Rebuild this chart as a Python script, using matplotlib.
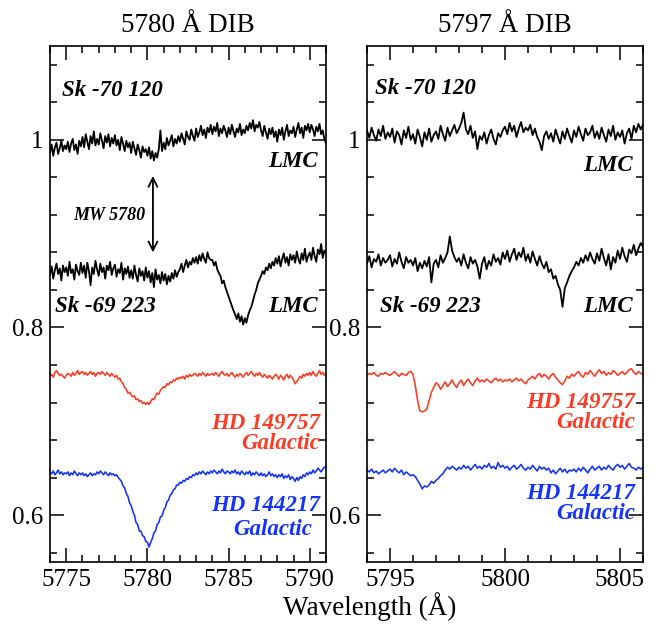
import numpy as np
import matplotlib
matplotlib.use("Agg")
import matplotlib.pyplot as plt
from matplotlib.ticker import MultipleLocator

plt.rcParams['font.family'] = ['Liberation Serif', 'DejaVu Serif']

# wavelength grids, 0.1 A sampling
wave_5780 = np.round(np.linspace(5774.0, 5791.0, 171), 1)
wave_5797 = np.round(np.linspace(5794.0, 5806.0, 121), 1)

# normalised flux (x1000), offsets already applied
sk70_5780 = [
    986, 995, 983, 992, 997, 985, 991, 999, 988, 994,
    990, 998, 987, 996, 1001, 989, 995, 985, 999, 993,
    1003, 992, 1006, 998, 990, 1004, 996, 1009, 994, 1001,
    995, 1007, 999, 991, 1004, 997, 1006, 993, 1002, 996,
    1005, 994, 1000, 989, 1003, 996, 988, 999, 992, 997,
    986, 998, 991, 984, 995, 989, 981, 993, 987, 990,
    983, 992, 980, 988, 978, 986, 981, 990, 1010, 988,
    997, 990, 1002, 994, 999, 1005, 993, 1001, 996, 1004,
    998, 1007, 1001, 995, 1009, 1003, 1000, 1011, 1004, 999,
    1012, 1003, 1008, 1015, 1005, 1011, 1002, 1013, 1008, 1016,
    1006, 1014, 1009, 1018, 1004, 1012, 1007, 1015, 1010, 1003,
    1013, 1006, 1016, 1009, 1003, 1012, 1008, 1017, 1005, 1011,
    1007, 1015, 1010, 1018, 1012, 1021, 1009, 1016, 1013, 1019,
    1010, 1004, 1015, 1008, 1001, 1012, 1006, 1013, 1003, 1009,
    998, 1011, 1005, 1013, 1000, 1009, 1016, 1004, 1010, 1007,
    1014, 1003, 1011, 1018, 1007, 1013, 1002, 1015, 1010, 1017,
    1008, 1016, 1011, 1004, 1014, 1009, 1017, 1006, 1010, 1001,
    996,
]
sk69_5780 = [
    856, 865, 852, 861, 868, 857, 863, 850, 866, 859,
    864, 855, 870, 858, 862, 851, 867, 860, 856, 869,
    858, 866, 853, 869, 860, 845, 864, 857, 871, 862,
    855, 868, 859, 864, 852, 866, 861, 870, 856, 863,
    867, 854, 862, 858, 869, 851, 863, 857, 865, 853,
    861, 852, 866, 856, 849, 863, 855, 860, 850, 864,
    853, 860, 848, 858, 843, 862, 851, 856, 847, 859,
    850, 857, 846, 855, 849, 858, 852, 861, 854, 859,
    862, 868, 859, 866, 872, 864, 870, 867, 874, 869,
    875, 868, 877, 871, 879, 873, 869, 880, 874, 872,
    872, 866, 870, 862, 858, 855, 847, 850, 843, 838,
    833, 828, 823, 818, 814, 809, 815, 806, 812, 803,
    810, 805, 813, 818, 822, 828, 835, 840, 847, 851,
    855, 860, 857, 864, 861, 868, 863, 870, 866, 874,
    868, 876, 865, 873, 879, 869, 875, 866, 878, 872,
    877, 869, 881, 873, 868, 879, 872, 884, 870, 876,
    880, 872, 885, 876, 870, 883, 878, 889, 874, 882,
    879,
]
hd149757_5780 = [
    748, 750, 747, 752, 754, 751, 749, 750, 748, 746,
    749, 751, 750, 748, 752, 749, 751, 754, 750, 752,
    753, 750, 752, 749, 751, 753, 750, 752, 748, 751,
    752, 750, 753, 751, 749, 752, 750, 748, 751, 749,
    747, 749, 745, 746, 742, 740, 736, 734, 730, 731,
    728, 726, 727, 723, 724, 721, 722, 719, 720, 718,
    720, 718, 721, 724, 723, 727, 730, 729, 733, 735,
    737, 736, 740, 739, 742, 741, 744, 743, 746, 745,
    747, 746, 748, 745, 749, 747, 750, 748, 749, 751,
    750, 748, 751, 749, 752, 750, 748, 751, 749, 750,
    751, 749, 752, 750, 748, 751, 753, 750, 749, 751,
    748, 750, 752, 749, 747, 750, 748, 751, 749, 747,
    750, 752, 749, 751, 753, 750, 748, 751, 749, 752,
    749, 747, 750, 748, 746, 749, 747, 745, 748, 750,
    748, 745, 749, 747, 744, 748, 750, 746, 749, 747,
    744, 740, 742, 745, 748, 746, 750, 748, 751, 749,
    752, 749, 753, 750, 748, 751, 754, 750, 752, 749,
    751,
]
hd144217_5780 = [
    646, 644, 647, 643, 645, 648, 644, 646, 643, 645,
    644, 646, 642, 645, 643, 647, 644, 642, 645, 643,
    645, 642, 644, 641, 643, 645, 642, 644, 643, 646,
    644, 647, 645, 643, 646, 644, 642, 645, 643, 644,
    642, 643, 640, 638, 636, 631, 629, 623, 620, 613,
    610, 604, 600, 592, 590, 583, 583, 578, 577, 572,
    571, 566, 571, 575, 581, 583, 590, 592, 598, 599,
    605, 608, 614, 616, 621, 623, 627, 628, 632, 632,
    635, 634, 637, 636, 639, 638, 641, 640, 643, 642,
    645, 643, 646, 644, 647, 645, 643, 646, 644, 647,
    645, 648, 646, 644, 647, 645, 649, 646, 644, 647,
    646, 644, 647, 645, 648, 644, 646, 643, 647, 645,
    643, 646, 644, 647, 642, 645, 643, 646, 644, 642,
    645, 642, 644, 641, 643, 646, 642, 644, 641, 643,
    640, 643, 641, 644, 639, 642, 640, 643, 638, 641,
    639, 636, 640, 637, 641, 639, 643, 641, 645, 643,
    646, 644, 648, 645, 647, 650, 648, 646, 649, 651,
    652,
]

sk70_5797 = [
    1010, 1002, 1013, 1005, 999, 1011, 1004, 1015, 1001, 1008,
    1003, 1012, 997, 1009, 1005, 995, 1010, 1002, 1014, 1000,
    1006, 996, 1011, 1003, 993, 1008, 1000, 1012, 998, 1005,
    1009, 1001, 1015, 1006, 999, 1013, 1004, 1010, 1016, 1007,
    1012, 1018, 1029, 1011, 1006, 1015, 1002, 1009, 990, 1004,
    1000, 1008, 996, 1005, 1011, 1001, 995, 1007, 1003, 1010,
    1014, 1006, 1018, 1009, 1015, 1003, 1012, 1019, 1008, 1013,
    1010, 1016, 1005, 1012, 1003, 998, 989, 1004, 1009, 1001,
    1007, 998, 1011, 1003, 996, 1009, 1001, 1012, 1004, 997,
    1010, 1003, 1014, 1006, 999, 1012, 1005, 1008, 1015, 1002,
    1009, 1001, 1013, 1005, 998, 1011, 1004, 1015, 1000, 1008,
    1003, 1010, 996, 1007, 1012, 1001, 1015, 1008, 1017, 1011,
    1016,
]
sk69_5797 = [
    868, 876, 864, 873, 870, 878, 866, 874, 869, 872,
    877, 865, 873, 868, 880, 870, 863, 875, 869, 872,
    866, 874, 860, 869, 863, 871, 865, 875, 848, 868,
    872, 864, 877, 869, 874, 880, 897, 882, 875, 870,
    874, 866, 878, 869, 863, 875, 868, 872, 865, 852,
    868, 875, 862, 871, 866, 878, 870, 874, 867, 880,
    873, 882, 870, 878, 884, 872, 880, 875, 885, 871,
    878, 869, 881, 873, 866, 876, 868, 863, 870, 859,
    862, 852, 855, 846, 840, 822, 842, 848, 855, 860,
    864, 870, 866, 874, 869, 877, 871, 880, 873, 868,
    879, 871, 884, 874, 866, 878, 862, 875, 869, 882,
    873, 885, 876, 870, 883, 879, 888, 877, 884, 890,
    886,
]
hd149757_5797 = [
    749, 751, 750, 752, 749, 748, 751, 750, 752, 750,
    749, 751, 753, 750, 748, 751, 750, 749, 752, 753,
    750, 738, 722, 711, 710, 711, 713, 722, 731, 736,
    741, 739, 734, 738, 742, 737, 740, 744, 739, 736,
    741, 744, 738, 742, 745, 741, 738, 743, 746, 742,
    744, 742, 745, 743, 741, 744, 746, 743, 745, 742,
    744, 743, 745, 742, 744, 746, 743, 745, 742, 740,
    744, 746, 748, 745, 749, 751, 747, 750, 748, 745,
    749, 751, 747, 744, 741, 739, 743, 748, 746, 750,
    748, 751, 753, 749, 747, 752, 750, 754, 751, 748,
    752, 755, 751, 753, 749, 752, 750, 754, 752, 749,
    751, 753, 750, 752, 755, 756, 752, 750, 753, 751,
    750,
]
hd144217_5797 = [
    648, 646, 649, 645, 647, 644, 646, 648, 645, 647,
    649, 646, 650, 647, 645, 648, 643, 646, 644, 642,
    643, 641, 637, 633, 628, 631, 630, 632, 636, 634,
    637, 639, 642, 644, 648, 651, 649, 652, 650, 648,
    651, 649, 653, 650, 652, 648, 651, 654, 650, 652,
    649, 653, 651, 655, 650, 652, 649, 656, 651, 653,
    650, 652, 648, 651, 653, 649, 651, 654, 650, 648,
    651, 649, 653, 650, 647, 652, 649, 651, 648, 650,
    645, 648, 644, 647, 650, 646, 649, 645, 648, 647,
    649, 646, 650, 647, 651, 648, 645, 649, 652, 648,
    650, 652, 648, 651, 649, 653, 650, 648, 652, 654,
    651, 653, 649, 652, 655, 651, 650, 648, 651, 649,
    651,
]

RED = '#ff3a22'
BLUE = '#1232ff'

panels = [
    dict(wave=wave_5780, title='5780 Å DIB', xlim=(5774, 5791),
         spectra=[(sk70_5780, 'k'), (sk69_5780, 'k'),
                  (hd149757_5780, RED), (hd144217_5780, BLUE)],
         labels=[(5774.74, 1.047, 'Sk -70 120', 'left', 'k'),
                 (5790.5, 0.971, 'LMC', 'right', 'k'),
                 (5774.31, 0.816, 'Sk -69 223', 'left', 'k'),
                 (5790.5, 0.816, 'LMC', 'right', 'k'),
                 (5790.63, 0.692, 'HD 149757', 'right', RED),
                 (5790.63, 0.670, 'Galactic', 'right', RED),
                 (5790.63, 0.6045, 'HD 144217', 'right', BLUE),
                 (5790.13, 0.5786, 'Galactic', 'right', BLUE)]),
    dict(wave=wave_5797, title='5797 Å DIB', xlim=(5794, 5806),
         spectra=[(sk70_5797, 'k'), (sk69_5797, 'k'),
                  (hd149757_5797, RED), (hd144217_5797, BLUE)],
         labels=[(5794.35, 1.049, 'Sk -70 120', 'left', 'k'),
                 (5805.57, 0.967, 'LMC', 'right', 'k'),
                 (5794.57, 0.817, 'Sk -69 223', 'left', 'k'),
                 (5805.57, 0.816, 'LMC', 'right', 'k'),
                 (5805.65, 0.7144, 'HD 149757', 'right', RED),
                 (5805.65, 0.693, 'Galactic', 'right', RED),
                 (5805.65, 0.617, 'HD 144217', 'right', BLUE),
                 (5805.65, 0.5954, 'Galactic', 'right', BLUE)]),
]

fig = plt.figure(figsize=(6.59, 6.24), dpi=100)
lefts = [50 / 659, 367 / 659]
for left, p in zip(lefts, panels):
    ax = fig.add_axes([left, 62 / 624, 276 / 659, 516 / 624])
    for flux, col in p['spectra']:
        lw = 1.3 if col == 'k' else 1.15
        ax.plot(p['wave'], np.array(flux) / 1000.0, color=col, lw=lw)
    ax.set_xlim(*p['xlim'])
    ax.set_ylim(0.55, 1.10)
    ax.xaxis.set_major_locator(MultipleLocator(5))
    ax.xaxis.set_minor_locator(MultipleLocator(1))
    ax.yaxis.set_major_locator(MultipleLocator(0.2))
    ax.yaxis.set_minor_locator(MultipleLocator(0.04))
    ax.yaxis.set_major_formatter(plt.FuncFormatter(lambda v, _: f'{v:g}'))
    ax.tick_params(which='both', direction='in', top=True, right=True,
                   width=1.1, labelsize=18)
    ax.tick_params(which='major', length=10, pad=5)
    ax.tick_params(which='minor', length=5)
    for s in ax.spines.values():
        s.set_linewidth(1.2)
    ax.text(0.5, 1.027, p['title'], transform=ax.transAxes,
            ha='center', va='baseline', fontsize=19.5)
    for x, y, txt, ha, col in p['labels']:
        ax.text(x, y, txt, ha=ha, va='baseline', color=col,
                fontsize=16.5, fontweight='bold', fontstyle='italic')
    if p['title'].startswith('5780'):
        ax.annotate('', xy=(5780.34, 0.9615), xytext=(5780.34, 0.880),
                    arrowprops=dict(arrowstyle='<->', lw=1.3, color='k',
                                    mutation_scale=16, shrinkA=0, shrinkB=0))
        ax.text(5779.85, 0.915, 'MW 5780', ha='right', va='baseline',
                fontsize=13, fontweight='bold', fontstyle='italic')

fig.text(370 / 659, 0.014, 'Wavelength (Å)', ha='center', va='baseline',
         fontsize=19.5)

fig.savefig('out.png', dpi=100)
